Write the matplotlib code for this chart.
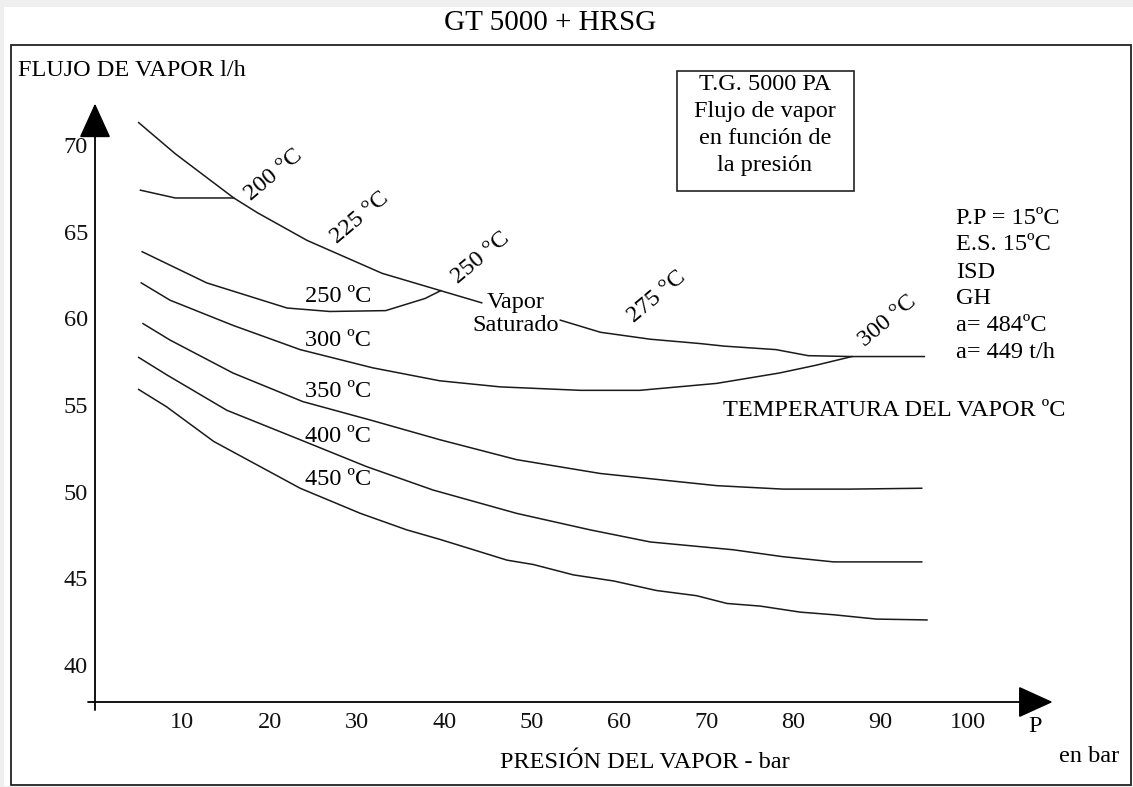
import matplotlib
matplotlib.use("Agg")
import matplotlib.pyplot as plt
from matplotlib.patches import Rectangle

# presion del vapor (bar) y flujo de vapor, leidos de la grafica original
# linea de vapor saturado (dos tramos, cortada por el texto)
p_sat_a = [5.0, 9.2, 15.9, 18.6, 24.3, 32.9, 39.6, 44.3]
v_sat_a = [71.3, 69.5, 66.95, 66.1, 64.5, 62.6, 61.6, 60.9]
p_sat_b = [53.3, 57.9, 63.6, 69.3, 72.1, 78.0, 81.7, 86.7, 95.0]
v_sat_b = [59.9, 59.2, 58.8, 58.55, 58.4, 58.2, 57.85, 57.8, 57.8]

# tramo de 200 ºC
p_200 = [5.2, 9.2, 15.9]
v_200 = [67.4, 66.95, 66.95]

p_250 = [5.4, 12.8, 22.0, 26.9, 33.3, 37.8, 39.6]
v_250 = [63.85, 62.05, 60.6, 60.4, 60.45, 61.15, 61.6]

p_300 = [5.3, 8.6, 15.8, 23.5, 31.8, 39.5, 46.4, 55.6, 62.4, 71.2, 78.4, 82.6, 86.7]
v_300 = [62.05, 61.05, 59.6, 58.2, 57.15, 56.4, 56.05, 55.85, 55.85, 56.25, 56.85, 57.3, 57.8]

p_350 = [5.5, 8.6, 15.8, 23.8, 31.8, 39.5, 48.3, 57.9, 63.6, 71.2, 78.8, 86.5, 94.7]
v_350 = [59.7, 58.75, 56.85, 55.2, 54.1, 53.0, 51.85, 51.05, 50.75, 50.35, 50.15, 50.15, 50.2]

p_400 = [5.0, 8.2, 15.1, 23.5, 31.1, 38.7, 48.3, 56.7, 63.6, 73.1, 78.8, 84.6, 94.7]
v_400 = [57.75, 56.75, 54.7, 53.0, 51.45, 50.1, 48.75, 47.8, 47.1, 46.65, 46.25, 45.95, 45.95]

p_450 = [5.0, 8.2, 13.6, 23.5, 30.4, 35.7, 39.5, 47.2, 50.2, 54.8, 59.4, 64.3,
         68.9, 72.4, 76.2, 80.8, 84.6, 89.5, 95.3]
v_450 = [55.9, 54.9, 52.9, 50.2, 48.75, 47.8, 47.25, 46.05, 45.8, 45.2, 44.85, 44.3,
         44.0, 43.55, 43.4, 43.05, 42.9, 42.65, 42.6]

x_ticks = [10, 20, 30, 40, 50, 60, 70, 80, 90, 100]
y_ticks = [40, 45, 50, 55, 60, 65, 70]

condiciones = ["P.P = 15ºC", "E.S. 15ºC", "ISD", "GH", "a= 484ºC", "a= 449 t/h"]

plt.rcParams["font.family"] = ["Liberation Serif", "DejaVu Serif"]

W, H = 1133, 787
fig = plt.figure(figsize=(W / 100, H / 100), dpi=100, facecolor="#efefef")

# fondo blanco y marco exterior
fig.add_artist(Rectangle((4 / W, 1 - 786 / H), 1 - 4 / W, (786 - 7) / H,
                         transform=fig.transFigure, facecolor="white",
                         edgecolor="none", zorder=-2))
fig.add_artist(Rectangle((11 / W, 1 - 785 / H), (1131 - 11) / W, (785 - 45) / H,
                         transform=fig.transFigure, facecolor="none",
                         edgecolor="#222222", lw=1.3, zorder=-1))

ax = fig.add_axes([95 / W, 1 - 702 / H, (1055.3 - 95) / W, (702 - 101.8) / H])
ax.set_facecolor("none")
ax.set_xlim(0, 110)
ax.set_ylim(37.865, 72.5)
for s in ax.spines.values():
    s.set_visible(False)

line_kw = dict(color="#1a1a1a", lw=1.1)
ax.plot(p_sat_a, v_sat_a, **line_kw)
ax.plot(p_sat_b, v_sat_b, **line_kw)
ax.plot(p_200, v_200, **line_kw)
ax.plot(p_250, v_250, **line_kw)
ax.plot(p_300, v_300, **line_kw)
ax.plot(p_350, v_350, **line_kw)
ax.plot(p_400, v_400, **line_kw)
ax.plot(p_450, v_450, **line_kw)

# ejes con flecha
arrow = dict(arrowstyle="-|>,head_length=22,head_width=10", mutation_scale=1,
             lw=1.3, color="black", shrinkA=0, shrinkB=0)
ax.annotate("", xy=(0, 72.4), xytext=(0, 37.4), arrowprops=arrow, annotation_clip=False)
ax.annotate("", xy=(109.7, 37.865), xytext=(-0.8, 37.865), arrowprops=arrow,
            annotation_clip=False)

fs = 17.5
ax.set_xticks(x_ticks)
ax.set_yticks(y_ticks)
ax.tick_params(length=0, labelsize=fs, colors="#111111")
ax.tick_params(axis="x", pad=7)
ax.tick_params(axis="y", pad=5)

# etiquetas de temperatura
rot = dict(fontsize=fs, ha="center", va="center", rotation=40, rotation_mode="anchor")
ax.text(20.4, 68.27, "200 °C", **rot)
ax.text(30.35, 65.79, "225 °C", **rot)
ax.text(44.2, 63.49, "250 °C", **rot)
ax.text(64.4, 61.24, "275 °C", **rot)
ax.text(90.8, 59.85, "300 °C", **rot)

hor = dict(fontsize=fs, ha="center", va="center")
ax.text(27.8, 61.24, "250 ºC", **hor)
ax.text(27.8, 58.70, "300 ºC", **hor)
ax.text(27.8, 55.77, "350 ºC", **hor)
ax.text(27.8, 53.17, "400 ºC", **hor)
ax.text(27.8, 50.68, "450 ºC", **hor)
ax.text(48.2, 60.25, "Vapor\nSaturado", fontsize=fs, ha="center", va="center",
        linespacing=1.15)
ax.text(91.6, 54.67, "TEMPERATURA DEL VAPOR ºC", fontsize=fs, ha="center", va="center")

for i, t in enumerate(condiciones):
    fig.text(956 / W, 1 - (218 + 27 * i) / H, t, fontsize=fs, ha="left", va="center")

# recuadro de descripcion
fig.add_artist(Rectangle((677 / W, 1 - 190.7 / H), (853.5 - 677) / W, (190.7 - 70.7) / H,
                         transform=fig.transFigure, facecolor="none",
                         edgecolor="#222222", lw=1.2))
caja = ["T.G. 5000 PA", "Flujo de vapor", "en función de", "la presión"]
for i, t in enumerate(caja):
    fig.text(765 / W, 1 - (85 + 27 * i) / H, t, fontsize=fs, ha="center", va="center")

fig.text(550 / W, 1 - 23 / H, "GT 5000 + HRSG", fontsize=21, ha="center", va="center")
fig.text(18 / W, 1 - 70 / H, "FLUJO DE VAPOR l/h", fontsize=fs, ha="left", va="center")
fig.text(645 / W, 1 - 762 / H, "PRESIÓN DEL VAPOR - bar", fontsize=fs, ha="center",
         va="center")
fig.text(1035 / W, 1 - 727 / H, "P", fontsize=fs, ha="center", va="center")
fig.text(1089 / W, 1 - 757 / H, "en bar", fontsize=fs, ha="center", va="center")

plt.savefig("out.png", dpi=100, facecolor=fig.get_facecolor())
